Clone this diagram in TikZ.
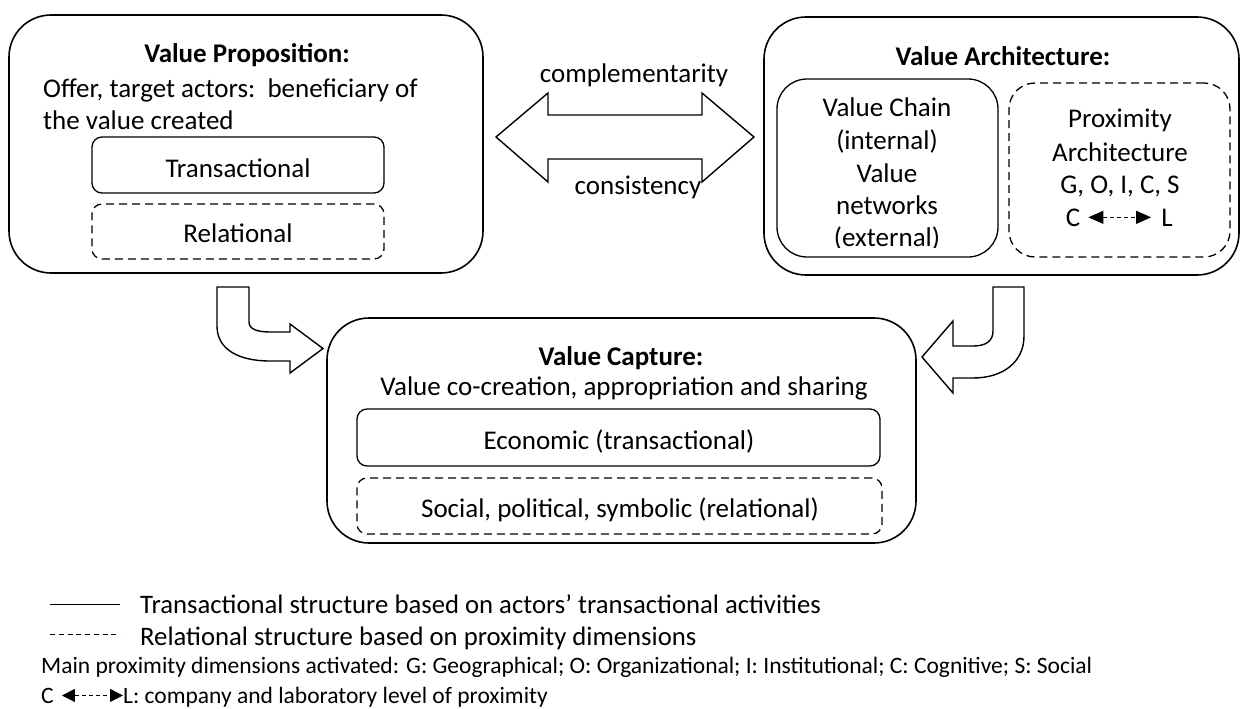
\documentclass[tikz,border=0pt]{standalone}
\usepackage{fontspec}
\setmainfont{Carlito}
\usetikzlibrary{arrows.meta}
\begin{document}
\begin{tikzpicture}[x=1pt,y=-1pt,
  big/.style={draw, line width=1.6pt, rounded corners=42pt, inner sep=0pt},
  sub/.style={draw, line width=1.3pt, inner sep=0pt},
  dsh/.style={dash pattern=on 8pt off 5pt},
  txt/.style={font=\fontsize{27}{33}\selectfont, inner sep=0pt, anchor=base},
  small/.style={font=\fontsize{23.5}{28}\selectfont, inner sep=0pt, anchor=base west},
  shp/.style={draw, line width=1.4pt, fill=white, line join=miter},
  cl/.style={dash pattern=on 4pt off 3pt, line width=1pt, {Triangle[length=15pt,width=13pt]}-{Triangle[length=15pt,width=13pt]}},
  cls/.style={dash pattern=on 4pt off 3pt, line width=1pt, {Triangle[length=13pt,width=13pt]}-{Triangle[length=13pt,width=13pt]}}
]
\useasboundingbox (0,0) rectangle (1243,709);

% ---------- Value Proposition ----------
\node[big, minimum width=474pt, minimum height=258pt] (vp) at (246,144) {};
\node[txt, font=\fontsize{27}{33}\selectfont\bfseries] (vpt) at (247,63) {Value Proposition:};
\node[txt, anchor=base west] (vp1) at (43,97) {Offer, target actors:\ \ beneficiary of};
\node[txt, anchor=base west] (vp2) at (43,129) {the value created};
\node[sub, rounded corners=10pt, minimum width=292pt, minimum height=56pt] (tr) at (238,165) {};
\node[txt] (trt) at (238,177) {Transactional};
\node[sub, dsh, rounded corners=10pt, minimum width=292pt, minimum height=55pt] (re) at (238,231.5) {};
\node[txt] (ret) at (238,242) {Relational};

% ---------- double arrow ----------
\draw[shp] (496,137) -- (548,93) -- (548,115) -- (702,115) -- (702,93) -- (754,137)
  -- (702,182) -- (702,159) -- (548,159) -- (548,182) -- cycle;
\node[txt] (comp) at (634,83) {complementarity};
\node[txt] (cons) at (638,194) {consistency};

% ---------- Value Architecture ----------
\node[big, minimum width=475pt, minimum height=258pt] (va) at (1001.5,146) {};
\node[txt, font=\fontsize{27}{33}\selectfont\bfseries] (vat) at (1003,66) {Value Architecture:};
\node[sub, rounded corners=30pt, minimum width=221pt, minimum height=178pt] (vch) at (887.5,168) {};
\begin{scope}
  \clip (777,79) rectangle (998,247);
  \node[txt] (v1) at (887,117) {Value Chain};
  \node[txt] (v2) at (887,149) {(internal)};
  \node[txt] (v3) at (887,182) {Value};
  \node[txt] (v4) at (887,214) {networks};
  \node[txt] (v5) at (887,246.5) {(external)};
\end{scope}
\node[sub, dsh, rounded corners=26pt, minimum width=221pt, minimum height=174pt] (pa) at (1119.5,170) {};
\node[txt] (p1) at (1120,128) {Proximity};
\node[txt] (p2) at (1120,161) {Architecture};
\node[txt] (p3) at (1120,193) {G, O, I, C, S};
\node[txt] (pc) at (1073,226) {C};
\node[txt] (pl) at (1167,226) {L};
\draw[cl] ([xshift=8pt]pc.east) -- ([xshift=-10pt]pl.west |- pc.east);

% ---------- bent arrows ----------
\draw[shp] (217,287) -- (249,287) -- (249,322) .. controls (249,329) and (257,332) .. (270,332)
  -- (290,332) -- (290,324) -- (323,348.5) -- (290,373) -- (290,361) -- (270,361)
  .. controls (238,361) and (217,349) .. (217,326) -- cycle;
\draw[shp] (993,287) -- (1024,287) -- (1024,336) .. controls (1024,362) and (1003,378) .. (973,378)
  -- (953,378) -- (953,393) -- (922,357) -- (953,321) -- (953,346) -- (973,346)
  .. controls (986,346) and (993,341) .. (993,331) -- cycle;

% ---------- Value Capture ----------
\node[big, minimum width=589pt, minimum height=225pt] (vc) at (621.5,430.5) {};
\node[txt, font=\fontsize{27}{33}\selectfont\bfseries] (vct) at (621,365) {Value Capture:};
\node[txt] (vc1) at (624,395) {Value co-creation, appropriation and sharing};
\node[sub, rounded corners=10pt, minimum width=523pt, minimum height=57pt] (ec) at (618.5,437.5) {};
\node[txt] (ect) at (619,449) {Economic (transactional)};
\node[sub, dsh, rounded corners=10pt, minimum width=525pt, minimum height=56pt] (so) at (619.5,506) {};
\node[txt] (sot) at (620,517) {Social, political, symbolic (relational)};

% ---------- legend ----------
\coordinate (l1a) at (50,604);
\coordinate (l1b) at (120,604);
\draw[line width=1pt] (l1a) -- (l1b);
\node[txt, font=\fontsize{26.7}{33}\selectfont, anchor=base west] (lg1) at (140,613) {Transactional structure based on actors’ transactional activities};
\coordinate (l2a) at (50,634);
\coordinate (l2b) at (120,634);
\draw[line width=1pt, dash pattern=on 5pt off 3.75pt] (l2a) -- (l2b);
\node[txt, font=\fontsize{26.7}{33}\selectfont, anchor=base west] (lg2) at (140,645) {Relational structure based on proximity dimensions};
\node[small] (lg3) at (41,673) {Main proximity dimensions activated: G: Geographical; O: Organizational; I: Institutional; C: Cognitive; S: Social};
\node[small] (lgc) at (41,703) {C};
\node[small] (lgl) at (123,703) {L: company and laboratory level of proximity};
\draw[cls] ([xshift=8pt]lgc.east) -- (lgl.west |- lgc.east);
\end{tikzpicture}
\end{document}
